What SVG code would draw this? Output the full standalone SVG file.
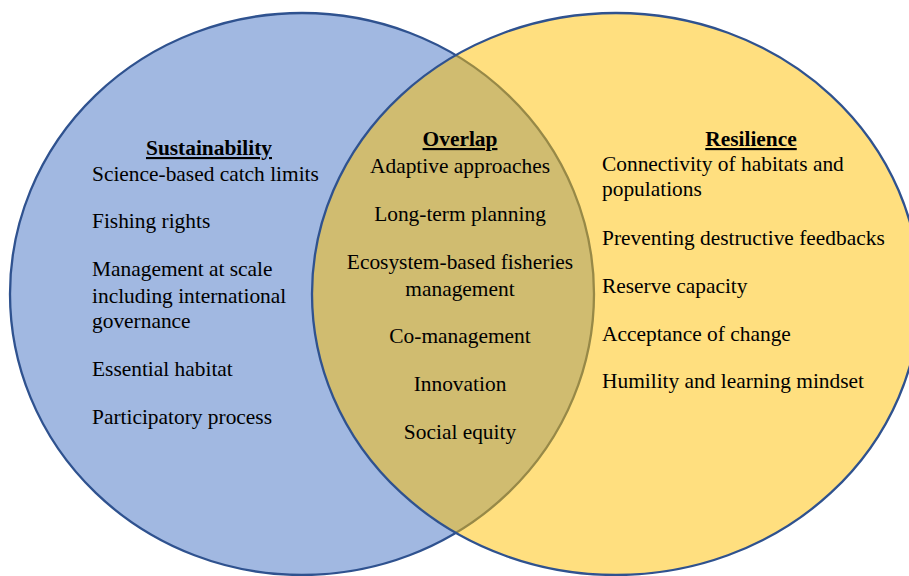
<svg xmlns="http://www.w3.org/2000/svg" width="909" height="576" viewBox="0 0 909 576">
<style>
.t{font-family:"Liberation Serif","Times New Roman",serif;font-size:21.4px;fill:#000}
.h{font-weight:bold;text-decoration:underline}
.m{text-anchor:middle}
.c{stroke:#2F528F;stroke-width:2.3}
</style>
<rect width="909" height="576" fill="#fff"/>
<g id="sustainability">
<ellipse class="c" cx="302" cy="294" rx="292" ry="281" fill="#4472C4" fill-opacity="0.5"/>
</g>
<g id="resilience">
<ellipse class="c" cx="616" cy="294" rx="304" ry="281" fill="#FFC000" fill-opacity="0.5"/>
</g>
<g id="sustainability-text" class="t">
<text class="h m" x="209" y="155">Sustainability</text>
<text x="92" y="181">Science-based catch limits</text>
<text x="92" y="228">Fishing rights</text>
<text x="92" y="276">Management at scale</text>
<text x="92" y="303">including international</text>
<text x="92" y="328">governance</text>
<text x="92" y="376">Essential habitat</text>
<text x="92" y="424">Participatory process</text>
</g>
<g id="overlap" class="t m">
<text class="h" x="460" y="146">Overlap</text>
<text x="460" y="173">Adaptive approaches</text>
<text x="460" y="221">Long-term planning</text>
<text x="460" y="269">Ecosystem-based fisheries</text>
<text x="460" y="296">management</text>
<text x="460" y="343">Co-management</text>
<text x="460" y="391">Innovation</text>
<text x="460" y="439">Social equity</text>
</g>
<g id="resilience-text" class="t">
<text class="h m" x="751" y="146">Resilience</text>
<text x="602" y="171">Connectivity of habitats and</text>
<text x="602" y="196">populations</text>
<text x="602" y="245">Preventing destructive feedbacks</text>
<text x="602" y="293">Reserve capacity</text>
<text x="602" y="341">Acceptance of change</text>
<text x="602" y="388">Humility and learning mindset</text>
</g>
<g id="connectors"/>
</svg>
